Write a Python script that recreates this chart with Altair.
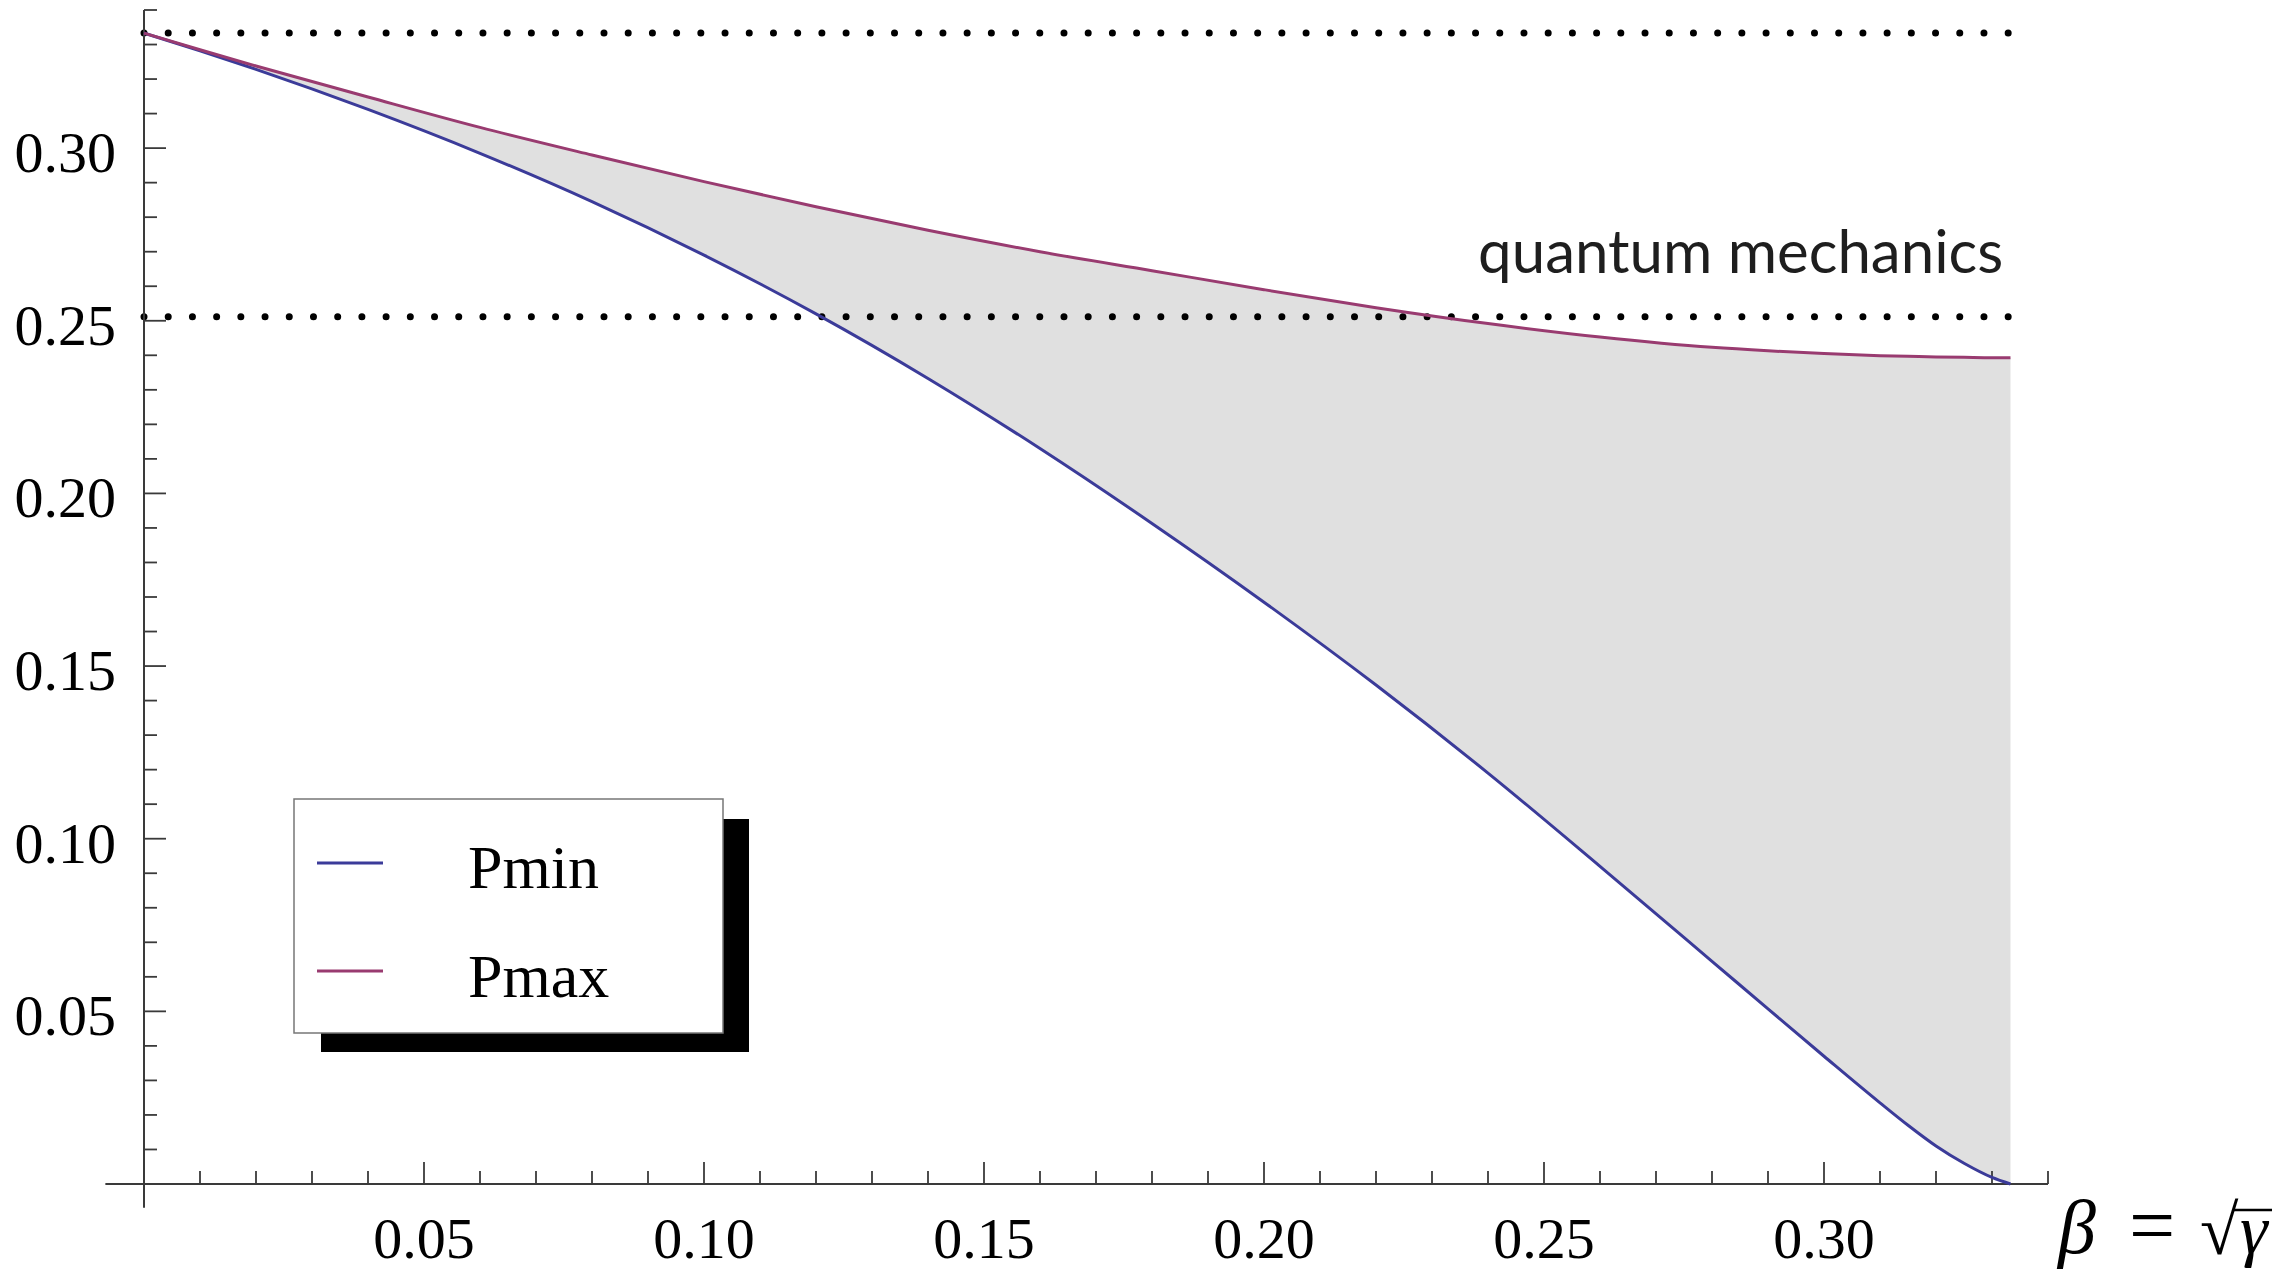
import altair as alt
import pandas as pd

# ---------------- data ----------------
beta = [0.0, 0.01, 0.02, 0.04, 0.06, 0.08, 0.10, 0.12, 0.14, 0.16, 0.18, 0.20,
        0.22, 0.24, 0.26, 0.28, 0.29, 0.30, 0.31, 0.315, 0.32, 0.325, 0.33, 0.3333]
p_min = [0.3333, 0.3282, 0.3228, 0.3112, 0.2985, 0.2845, 0.2690, 0.2520, 0.2333,
         0.2130, 0.1913, 0.1685, 0.1445, 0.1190, 0.0920, 0.0645, 0.0507, 0.0370,
         0.0235, 0.0170, 0.0110, 0.0060, 0.0019, 0.0]
p_max = [0.3333, 0.3285, 0.3238, 0.3148, 0.3060, 0.2980, 0.2903, 0.2830, 0.2762,
         0.2700, 0.2645, 0.2590, 0.2538, 0.2492, 0.2453, 0.2423, 0.2413, 0.2405,
         0.2399, 0.2397, 0.2395, 0.2394, 0.2393, 0.2393]

series_names = ["Pmin", "Pmax"]
series_colors = ["#3b3b99", "#993b70"]

reference_levels = [1 / 3, 0.25]
reference_start = 0.0
reference_end = 0.336

annotation_text = ["quantum mechanics"]
annotation_x = [0.332]
annotation_y = [0.2639]

x_major_ticks = [0.0, 0.05, 0.10, 0.15, 0.20, 0.25, 0.30]
x_minor_ticks = [0.01, 0.02, 0.03, 0.04, 0.06, 0.07, 0.08, 0.09, 0.11, 0.12, 0.13,
                 0.14, 0.16, 0.17, 0.18, 0.19, 0.21, 0.22, 0.23, 0.24, 0.26, 0.27,
                 0.28, 0.29, 0.31, 0.32, 0.33, 0.34]
y_major_ticks = [0.0, 0.05, 0.10, 0.15, 0.20, 0.25, 0.30]
y_minor_ticks = [0.01, 0.02, 0.03, 0.04, 0.06, 0.07, 0.08, 0.09, 0.11, 0.12, 0.13,
                 0.14, 0.16, 0.17, 0.18, 0.19, 0.21, 0.22, 0.23, 0.24, 0.26, 0.27,
                 0.28, 0.29, 0.31, 0.32, 0.33, 0.34]
x_tick_labels = [0.05, 0.10, 0.15, 0.20, 0.25, 0.30]
y_tick_labels = [0.05, 0.10, 0.15, 0.20, 0.25, 0.30]
axis_extent = [-0.0069, 0.34]

# ---------------- layout / style ----------------
W, H = 1904, 1174
AXIS_COLOR = "#3a3a3a"
SERIF = "Liberation Serif"

xs = alt.Scale(domain=[0, 0.34], nice=False, zero=False)
ys = alt.Scale(domain=[0, 0.34], nice=False, zero=False)


def X(f):
    return alt.X(f, scale=xs, axis=None)


def Y(f):
    return alt.Y(f, scale=ys, axis=None)


curve_df = pd.DataFrame({"beta": beta, "pmin": p_min, "pmax": p_max})
long_df = pd.concat([
    pd.DataFrame({"beta": beta, "P": p_min, "series": series_names[0]}),
    pd.DataFrame({"beta": beta, "P": p_max, "series": series_names[1]}),
])
one = pd.DataFrame({"k": [0]})

area = alt.Chart(curve_df).mark_area(color="#e0e0e0", opacity=1, interpolate="monotone").encode(
    x=X("beta:Q"), y=Y("pmin:Q"), y2="pmax:Q"
)

ref_df = pd.DataFrame({"level": reference_levels, "x0": reference_start, "x1": reference_end})
dot_style = dict(color="black", strokeWidth=7, strokeDash=[0.01, 24.2], strokeCap="round")
dots_top = alt.Chart(ref_df).transform_filter("datum.level > 0.3").mark_rule(**dot_style).encode(
    x=X("x0:Q"), x2="x1:Q", y=Y("level:Q"))
dots_qm = alt.Chart(ref_df).transform_filter("datum.level < 0.3").mark_rule(
    yOffset=-4, y2Offset=-4, **dot_style).encode(
    x=X("x0:Q"), x2="x1:Q", y=Y("level:Q"))

ax_df = pd.DataFrame({"lo": [axis_extent[0]], "hi": [axis_extent[1]], "zero": [0.0]})
x_axis = alt.Chart(ax_df).mark_rule(color=AXIS_COLOR, strokeWidth=2).encode(
    x=X("lo:Q"), x2="hi:Q", y=Y("zero:Q"))
y_axis = alt.Chart(ax_df).mark_rule(color=AXIS_COLOR, strokeWidth=2).encode(
    x=X("zero:Q"), y=Y("lo:Q"), y2="hi:Q")

x_maj = alt.Chart(pd.DataFrame({"v": x_major_ticks})).mark_rule(color=AXIS_COLOR, strokeWidth=1.8).encode(
    x=X("v:Q"), y=alt.value(H), y2=alt.value(H - 22))
x_min = alt.Chart(pd.DataFrame({"v": x_minor_ticks})).mark_rule(color=AXIS_COLOR, strokeWidth=1.8).encode(
    x=X("v:Q"), y=alt.value(H), y2=alt.value(H - 13))
y_maj = alt.Chart(pd.DataFrame({"v": y_major_ticks})).mark_rule(color=AXIS_COLOR, strokeWidth=1.8).encode(
    y=Y("v:Q"), x=alt.value(0), x2=alt.value(22))
y_min = alt.Chart(pd.DataFrame({"v": y_minor_ticks})).mark_rule(color=AXIS_COLOR, strokeWidth=1.8).encode(
    y=Y("v:Q"), x=alt.value(0), x2=alt.value(13))

x_lab = alt.Chart(pd.DataFrame({"v": x_tick_labels})).mark_text(
    font=SERIF, fontSize=58, align="center", baseline="alphabetic", color="black"
).encode(x=X("v:Q"), y=alt.value(H + 74), text=alt.Text("v:Q", format=".2f"))
y_lab = alt.Chart(pd.DataFrame({"v": y_tick_labels})).mark_text(
    font=SERIF, fontSize=58, align="right", baseline="alphabetic", color="black", dy=24
).encode(y=Y("v:Q"), x=alt.value(-28), text=alt.Text("v:Q", format=".2f"))

lines = alt.Chart(long_df).mark_line(strokeWidth=3, interpolate="monotone").encode(
    x=X("beta:Q"), y=Y("P:Q"),
    color=alt.Color("series:N", scale=alt.Scale(domain=series_names, range=series_colors), legend=None),
)

annotation = alt.Chart(pd.DataFrame({"t": annotation_text, "x": annotation_x, "y": annotation_y})).mark_text(
    font="Lato", fontWeight=400, fontSize=60, align="right", baseline="alphabetic", color="#1e1e1e"
).encode(x=X("x:Q"), y=Y("y:Q"), text="t:N")

# axis title  beta = sqrt(gamma)
TB = 1243  # baseline of the axis title, px from plot top
t_beta = alt.Chart(one).mark_text(text="β", font=SERIF, fontStyle="italic", fontSize=76,
                                  align="left", baseline="alphabetic", color="black").encode(
    x=alt.value(1914), y=alt.value(TB))
t_eq = alt.Chart(one).mark_text(text="=", font=SERIF, fontSize=82,
                                align="center", baseline="alphabetic", color="black").encode(
    x=alt.value(2008), y=alt.value(TB))
t_sqrt = alt.Chart(one).mark_text(text="√", font=SERIF, fontSize=70,
                                  align="left", baseline="alphabetic", color="black").encode(
    x=alt.value(2056), y=alt.value(TB + 1))
t_gamma = alt.Chart(one).mark_text(text="γ", font=SERIF, fontStyle="italic", fontSize=70,
                                   align="left", baseline="alphabetic", color="black").encode(
    x=alt.value(2096), y=alt.value(TB))
t_bar = alt.Chart(one).mark_rule(color="black", strokeWidth=2.5).encode(
    x=alt.value(2090), x2=alt.value(2128), y=alt.value(TB - 43))

# legend with drop shadow
shadow = alt.Chart(one).mark_rect(color="black").encode(
    x=alt.value(177), x2=alt.value(605), y=alt.value(809), y2=alt.value(1042))
box = alt.Chart(one).mark_rect(fill="white", stroke="#777777", strokeWidth=1.5).encode(
    x=alt.value(150), x2=alt.value(579), y=alt.value(789), y2=alt.value(1023))
legend_layers = []
for i, (name, col) in enumerate(zip(series_names, series_colors)):
    legend_layers.append(alt.Chart(one).mark_rule(color=col, strokeWidth=3).encode(
        x=alt.value(173), x2=alt.value(239), y=alt.value(853 + 108 * i)))
    legend_layers.append(alt.Chart(one).mark_text(
        text=name, font=SERIF, fontSize=62, align="left", baseline="alphabetic", color="black"
    ).encode(x=alt.value(324), y=alt.value(878 + 109 * i)))

chart = alt.layer(
    area, dots_top, dots_qm, x_axis, y_axis, x_maj, x_min, y_maj, y_min, lines, annotation,
    x_lab, y_lab, t_beta, t_eq, t_sqrt, t_gamma, t_bar, shadow, box, *legend_layers
).properties(
    width=W, height=H,
    autosize=alt.AutoSizeParams(type="none"),
    padding={"left": 136, "top": 2, "right": 226, "bottom": 87},
).configure_view(stroke=None)

chart.save("out.html", embed_options={"renderer": "svg", "actions": False})
